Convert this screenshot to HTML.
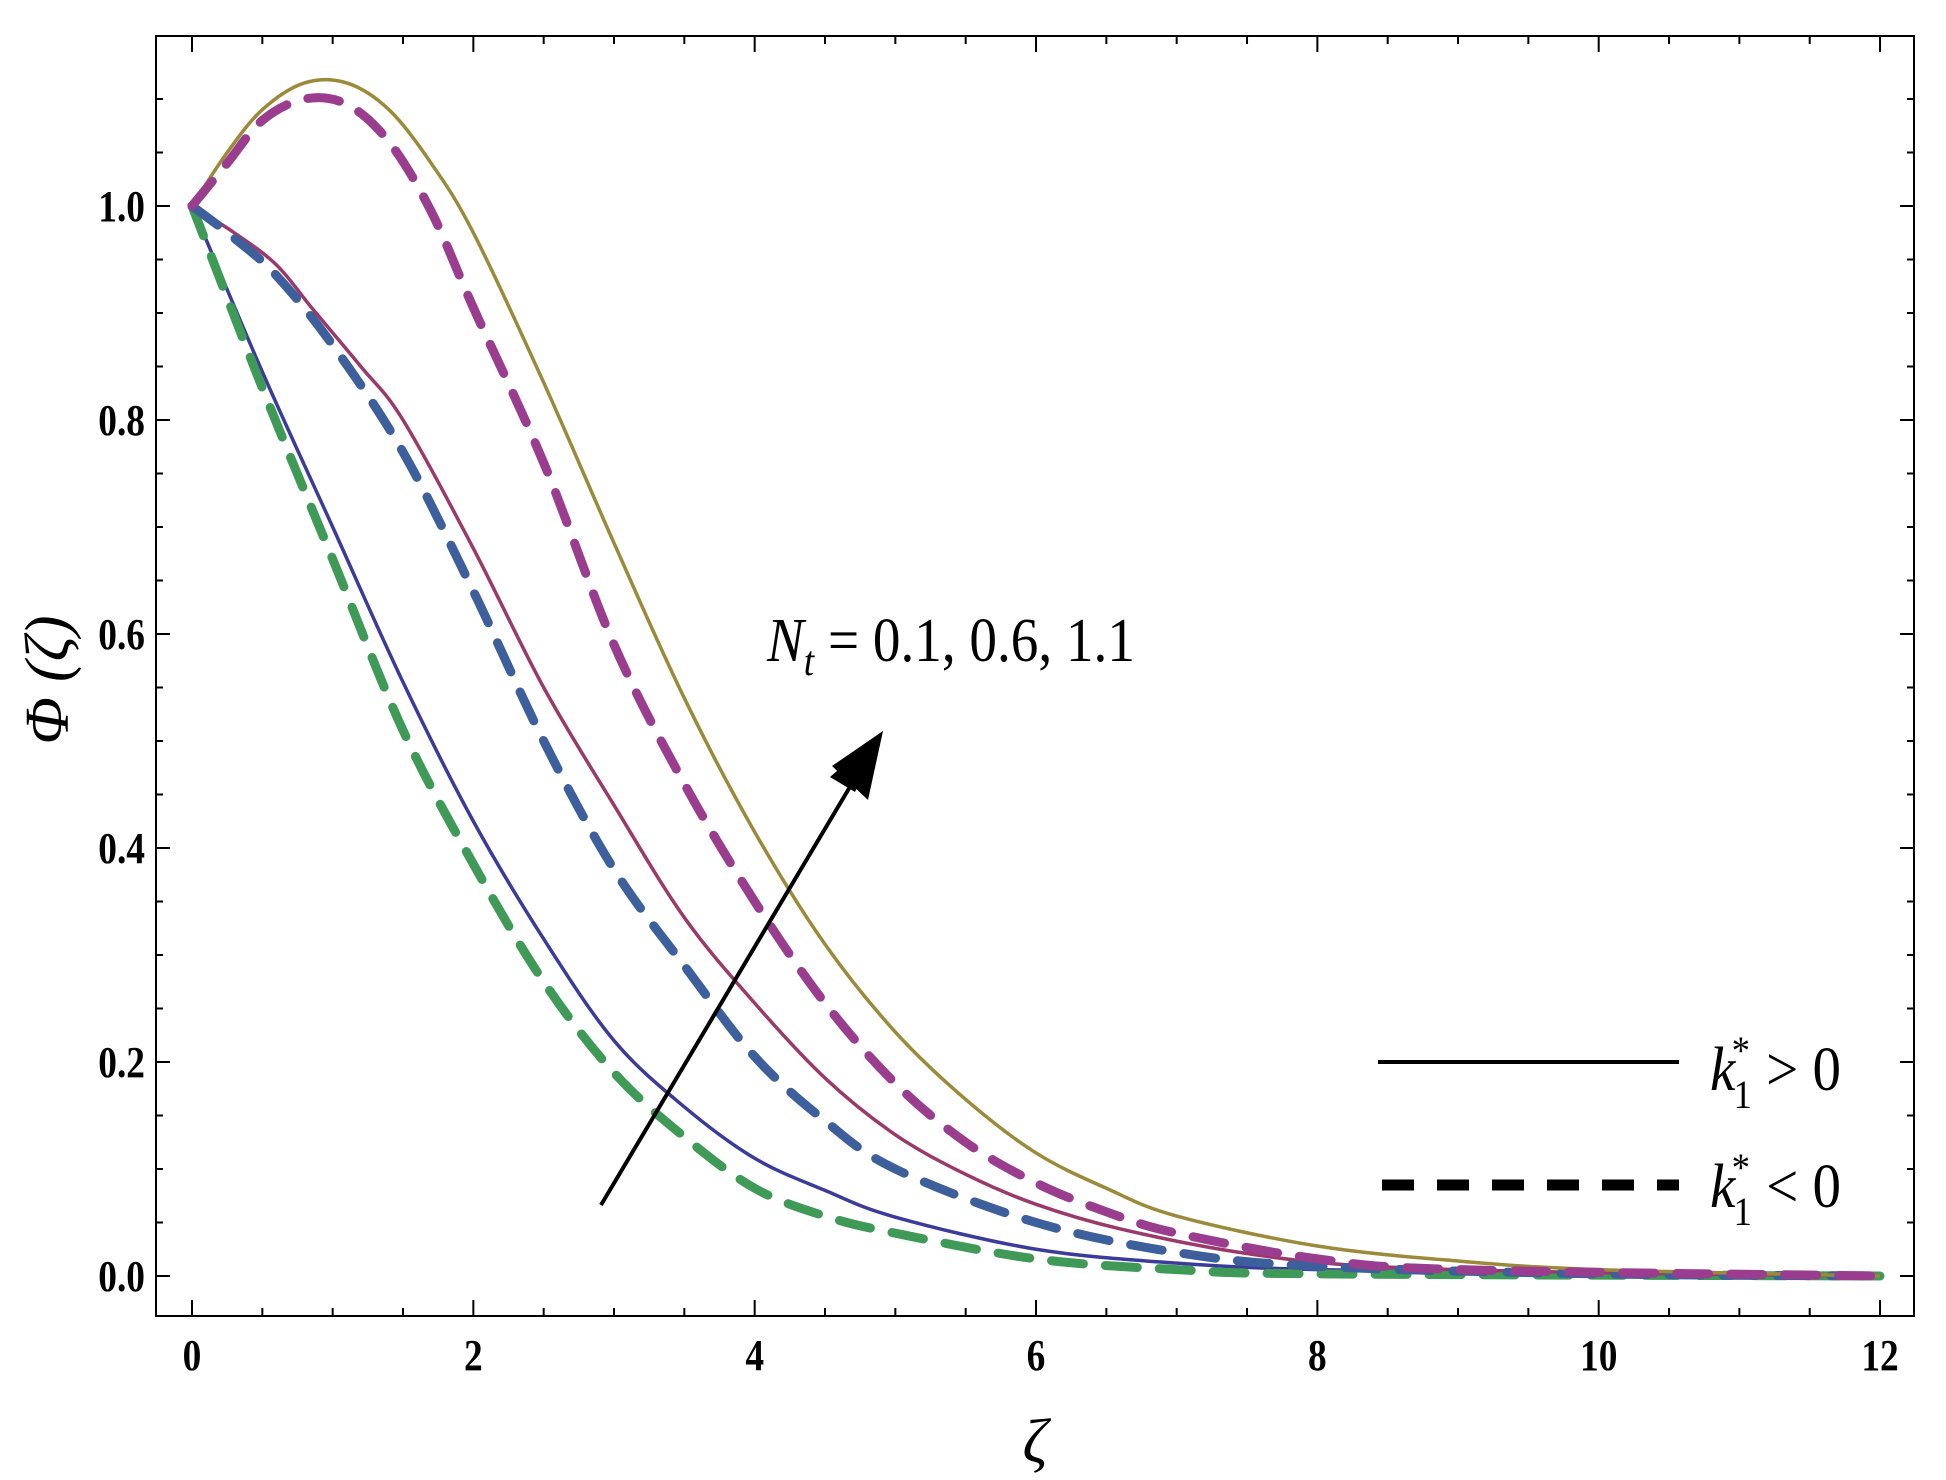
<!DOCTYPE html>
<html><head><meta charset="utf-8">
<style>
html,body{margin:0;padding:0;background:#fff;}
svg{display:block;}
.tl{font-family:"Liberation Serif",serif;font-weight:bold;font-size:44px;fill:#000;}
.lg{font-family:"Liberation Serif",serif;font-size:62px;fill:#000;}
</style></head>
<body>
<svg id="s" width="1946" height="1480" viewBox="0 0 1946 1480" xmlns="http://www.w3.org/2000/svg">
<rect x="0" y="0" width="1946" height="1480" fill="#fff"/>
<g id="ticks" stroke="#000" stroke-width="2"></g>
<g id="curves" fill="none"></g>
<rect x="156" y="36" width="1758" height="1280" fill="none" stroke="#000" stroke-width="2"/>
<g id="labels"></g>
<!-- arrow -->
<line x1="601" y1="1205" x2="860" y2="770" stroke="#000" stroke-width="4"/>
<polygon points="883,731 855,792 830,777" fill="#000"/>
<polygon points="883,731 868,800 832,766" fill="#000"/>
<text class="lg" x="767" y="661" transform="translate(767 661) scale(0.89 1) translate(-767 -661)"><tspan font-style="italic">N</tspan><tspan font-style="italic" font-size="42" dy="14">t</tspan><tspan dy="-14"> = 0.1, 0.6, 1.1</tspan></text>
<!-- legend -->
<line x1="1378" y1="1062" x2="1679" y2="1062" stroke="#000" stroke-width="4"/>
<line x1="1382" y1="1185" x2="1679" y2="1185" stroke="#000" stroke-width="11" stroke-dasharray="32 23"/>
<text class="lg" x="1710" y="1090" transform="translate(1710 1090) scale(0.92 1) translate(-1710 -1090)"><tspan font-style="italic">k</tspan><tspan font-size="40" dx="-4" dy="-26">*</tspan><tspan font-size="40" dx="-18" dy="44">1</tspan><tspan dy="-18"> &gt; 0</tspan></text>
<text class="lg" x="1710" y="1207" transform="translate(1710 1207) scale(0.92 1) translate(-1710 -1207)"><tspan font-style="italic">k</tspan><tspan font-size="40" dx="-4" dy="-26">*</tspan><tspan font-size="40" dx="-18" dy="44">1</tspan><tspan dy="-18"> &lt; 0</tspan></text>
<!-- axis labels -->
<text class="lg" x="1035" y="1462" font-style="italic" text-anchor="middle">ζ</text>
<text class="lg" font-style="italic" text-anchor="middle" transform="translate(68 680) rotate(-90)">Φ (ζ)</text>
</svg>
<script>
var X=function(x){return 192+140.67*x;}, Y=function(y){return 1276-1070*y;};
var ns="http://www.w3.org/2000/svg";
var tk=document.getElementById('ticks'), lb=document.getElementById('labels');
function ln(x1,y1,x2,y2){var l=document.createElementNS(ns,'line');l.setAttribute('x1',x1);l.setAttribute('y1',y1);l.setAttribute('x2',x2);l.setAttribute('y2',y2);tk.appendChild(l);}
function tx(s,x,y,a){var t=document.createElementNS(ns,'text');t.setAttribute('class','tl');t.setAttribute('x',x);t.setAttribute('y',y);t.setAttribute('text-anchor',a);t.setAttribute('transform','translate('+x+' '+y+') scale(0.85 1) translate('+(-x)+' '+(-y)+')');t.textContent=s;lb.appendChild(t);}
for(var i=0;i<=24;i++){var x=X(i*0.5);var L=(i%4==0)?16:8;ln(x,1316,x,1316-L);ln(x,36,x,36+L);if(i%4==0)tx(String(i/2),x,1370,'middle');}
for(var j=-1;j<=22;j++){var v=j*0.05;var y=Y(v);if(y<38||y>1314)continue;var L=(j%4==0)?14:7;ln(156,y,156+L,y);ln(1914,y,1914-L,y);if(j%4==0)tx(v.toFixed(1),145,y+15,'end');}
var S=[
{c:'#3a3b9a',w:3.5,d:null,p:[[0,1],[0.5,0.845],[1,0.7],[1.5,0.555],[2,0.425],[2.5,0.315],[3,0.22],[3.5,0.158],[4,0.11],[4.5,0.08],[5,0.055],[6,0.025],[7,0.012],[8,0.006],[10,0.002],[12,0]]},
{c:'#3f9a58',w:9,d:'32 22',p:[[0,1],[0.5,0.83],[1,0.67],[1.5,0.51],[2,0.385],[2.5,0.275],[3,0.19],[3.5,0.13],[4,0.082],[4.5,0.056],[5,0.04],[6,0.016],[7,0.006],[8,0.002],[12,0]]},
{c:'#9b3a6a',w:3.5,d:null,p:[[0,1],[0.3,0.975],[0.6,0.945],[0.85,0.905],[1.2,0.85],[1.5,0.8],[2,0.68],[2.5,0.55],[3,0.44],[3.5,0.335],[4,0.255],[4.5,0.185],[5,0.132],[5.5,0.095],[6,0.067],[6.6,0.044],[7.5,0.021],[8.4,0.009],[10,0.003],[12,0]]},
{c:'#3d5f9b',w:9,d:'32 22',p:[[0,1],[0.3,0.97],[0.6,0.935],[1,0.87],[1.5,0.77],[2,0.64],[2.5,0.5],[3,0.38],[3.5,0.29],[4,0.205],[4.5,0.145],[5,0.1],[6,0.05],[7,0.022],[8,0.009],[10,0.002],[12,0]]},
{c:'#9a8a3a',w:3.5,d:null,p:[[0,1],[0.25,1.05],[0.5,1.09],[0.8,1.115],[1.1,1.115],[1.4,1.09],[1.7,1.04],[2,0.975],[2.5,0.835],[3,0.685],[3.5,0.54],[4,0.415],[4.5,0.31],[5,0.228],[5.5,0.165],[6,0.115],[6.5,0.082],[7,0.056],[8,0.028],[9,0.014],[10,0.006],[12,0]]},
{c:'#9b3d8f',w:9,d:'32 22',p:[[0,1],[0.25,1.04],[0.5,1.08],[0.8,1.1],[1.1,1.095],[1.4,1.06],[1.7,0.995],[2,0.905],[2.5,0.76],[3,0.59],[3.5,0.46],[4,0.35],[4.5,0.255],[5,0.18],[5.5,0.125],[6,0.087],[6.5,0.06],[7,0.04],[8,0.016],[9,0.006],[12,0]]}
];
var cg=document.getElementById('curves');
S.forEach(function(s){var P=s.p.map(function(q){return [X(q[0]),Y(q[1])];});var d='M'+P[0][0]+' '+P[0][1];
for(var i=0;i<P.length-1;i++){var p0=P[i>0?i-1:i],p1=P[i],p2=P[i+1],p3=P[i+2<P.length?i+2:i+1];
var c1=[p1[0]+(p2[0]-p0[0])/6,p1[1]+(p2[1]-p0[1])/6],c2=[p2[0]-(p3[0]-p1[0])/6,p2[1]-(p3[1]-p1[1])/6];
d+=' C'+c1[0]+' '+c1[1]+' '+c2[0]+' '+c2[1]+' '+p2[0]+' '+p2[1];}
var pa=document.createElementNS(ns,'path');pa.setAttribute('d',d);pa.setAttribute('stroke',s.c);pa.setAttribute('stroke-width',s.w);if(s.d){pa.setAttribute('stroke-dasharray',s.d);pa.setAttribute('stroke-linecap','round');}cg.appendChild(pa);});
</script>
</body></html>
